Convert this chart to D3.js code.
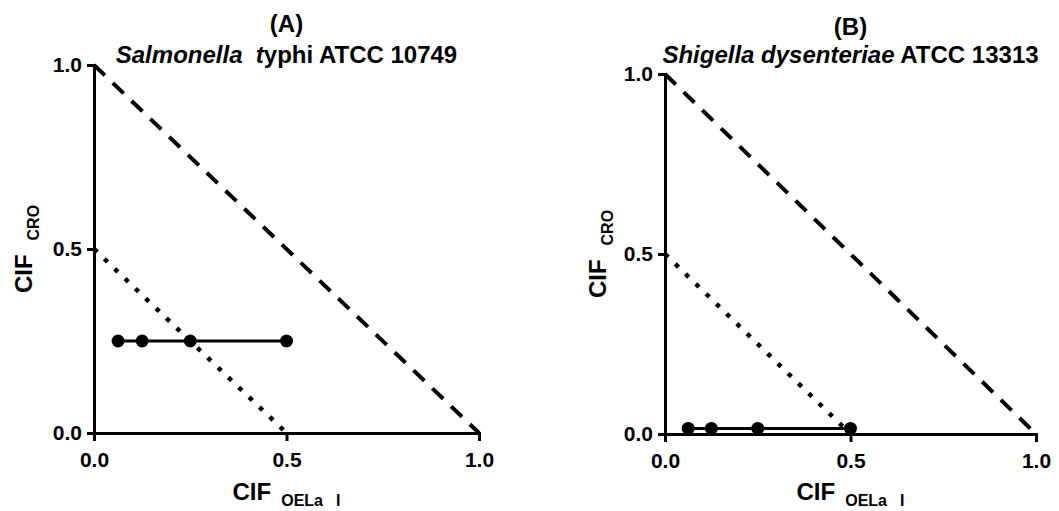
<!DOCTYPE html>
<html>
<head>
<meta charset="utf-8">
<script src="https://cdn.jsdelivr.net/npm/d3@7"></script>
<style>
  body { margin: 0; background: #fff; }
  text { font-family: "Liberation Sans", Arial, sans-serif; font-weight: bold; fill: #000; }
</style>
</head>
<body>
<div id="chart-area"></div>
<script>
// data
var xTicks = [0, 0.5, 1.0];
var yTicks = [0, 0.5, 1.0];
var fixOELa_A = [0.0625, 0.125, 0.25, 0.5];
var fixCRO_A = [0.25, 0.25, 0.25, 0.25];
var fixOELa_B = [0.0625, 0.125, 0.25, 0.5];
var fixCRO_B = [0.015625, 0.015625, 0.015625, 0.015625];
var additivityLine = [[0, 1], [1, 0]];
var synergyLine = [[0, 0.5], [0.5, 0]];

var svg = d3.select('#chart-area').append('svg')
    .attr('width', 1059)
    .attr('height', 511);

function drawPanel(p) {
    var x = d3.scaleLinear().domain([0, 1]).range([p.left, p.right]);
    var y = d3.scaleLinear().domain([0, 1]).range([p.bottom, p.top]);
    var g = svg.append("g");

    // reference lines
    var line = d3.line().x(function(d){ return x(d[0]); }).y(function(d){ return y(d[1]); });
    g.append("path")
        .attr("d", line(additivityLine))
        .attr("fill", "none")
        .attr("stroke", "#000")
        .attr("stroke-width", 4)
        .style("stroke-dasharray", "15,11");
    g.append("path")
        .attr("d", line(synergyLine))
        .attr("fill", "none")
        .attr("stroke", "#000")
        .attr("stroke-width", 4.5)
        .style("stroke-dasharray", "4.5,9.8");

    // axes
    var xAxisCall = d3.axisBottom(x).tickValues(xTicks).tickFormat(d3.format(".1f"))
        .tickSize(8).tickPadding(11);
    var xa = g.append("g")
        .attr("class", "x axis")
        .attr("transform", "translate(0," + p.bottom + ")")
        .call(xAxisCall);
    var yAxisCall = d3.axisLeft(y).tickValues(yTicks).tickFormat(d3.format(".1f"))
        .tickSize(7).tickPadding(5);
    var ya = g.append("g")
        .attr("class", "y axis")
        .attr("transform", "translate(" + p.left + ",0)")
        .call(yAxisCall);
    [xa, ya].forEach(function(a){
        a.select(".domain").attr("stroke-width", 3);
        a.selectAll(".tick line").attr("stroke-width", 3);
        a.selectAll("text")
            .attr("font-size", "21px")
            .attr("font-family", "Liberation Sans, Arial, sans-serif")
            .attr("font-weight", "bold")
            .attr("fill", "#000");
    });

    // data series
    var pts = p.xs.map(function(v, i){ return [v, p.ys[i]]; });
    g.append("path")
        .attr("d", line(pts))
        .attr("fill", "none")
        .attr("stroke", "#000")
        .attr("stroke-width", 3);
    g.selectAll("circle.pt")
        .data(pts)
        .enter()
        .append("circle")
        .attr("class", "pt")
        .attr("cx", function(d){ return x(d[0]); })
        .attr("cy", function(d){ return y(d[1]); })
        .attr("r", 6.5)
        .attr("fill", "#000");

    // titles
    var cx = (p.left + p.right) / 2;
    g.append("text")
        .attr("x", cx)
        .attr("y", p.labelY)
        .attr("text-anchor", "middle")
        .attr("font-size", "24px")
        .text(p.label);
    var t = g.append("text")
        .attr("x", cx)
        .attr("y", 63)
        .attr("text-anchor", "middle")
        .attr("font-size", "24px")
        .style("white-space", "pre");
    p.title.forEach(function(s){
        t.append("tspan").attr("font-style", s[1] ? "italic" : "normal").text(s[0]);
    });

    // x axis title
    var xt = g.append("text")
        .attr("x", cx)
        .attr("y", 500)
        .attr("text-anchor", "middle")
        .attr("font-size", "24px");
    xt.append("tspan").text("CIF");
    xt.append("tspan").attr("dx", 10).attr("dy", 6).attr("font-size", "16px").text("OELa");
    xt.append("tspan").attr("dx", 13).attr("font-size", "16px").text("I");

    // y axis title
    var yt = g.append("text")
        .attr("transform", "translate(" + p.yTitleX + "," + ((p.top + p.bottom) / 2) + ") rotate(-90)")
        .attr("text-anchor", "middle")
        .attr("font-size", "24px");
    yt.append("tspan").text("CIF");
    yt.append("tspan").attr("dx", 14).attr("dy", 7).attr("font-size", "16px").text("CRO");
}

drawPanel({
    left: 94, right: 479, top: 65, bottom: 433,
    xs: fixOELa_A, ys: fixCRO_A,
    label: "(A)", labelY: 32, yTitleX: 32,
    title: [["Salmonella  t", true], ["yphi ATCC 10749", false]]
});
drawPanel({
    left: 665, right: 1036, top: 74, bottom: 434,
    xs: fixOELa_B, ys: fixCRO_B,
    label: "(B)", labelY: 35, yTitleX: 606,
    title: [["Shigella dysenteriae", true], [" ATCC 13313", false]]
});
</script>
</body>
</html>
